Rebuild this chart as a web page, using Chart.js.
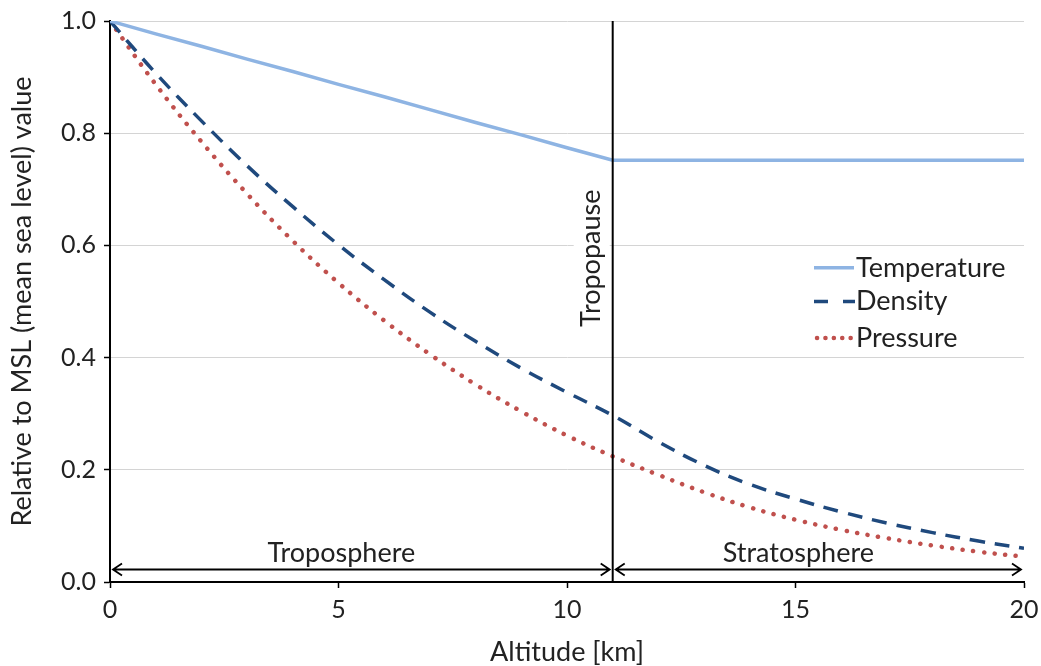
<!DOCTYPE html>
<html>
<head>
    <title>Atmosphere</title>
    <script src="https://cdn.jsdelivr.net/npm/chart.js"></script>
    <style>
        html, body { margin: 0; padding: 0; background: #fff; }
        #wrap { width: 1041px; height: 666px; position: relative; }
    </style>
</head>
<body>
    <div id="wrap"><canvas id="myChart" width="1041" height="666"></canvas></div>
    <script>
        // altitude in km
        const altitude = [0, 1, 2, 3, 4, 5, 6, 7, 8, 9, 10, 11, 12, 13, 14, 15, 16, 17, 18, 19, 20];
        // values relative to mean sea level
        const temperature = [1.000, 0.977, 0.955, 0.932, 0.910, 0.887, 0.865, 0.842, 0.819, 0.797, 0.774, 0.752,
            0.752, 0.752, 0.752, 0.752, 0.752, 0.752, 0.752, 0.752, 0.752];
        const density = [1.000, 0.907, 0.822, 0.742, 0.669, 0.601, 0.539, 0.481, 0.429, 0.381, 0.338, 0.297,
            0.250, 0.208, 0.174, 0.148, 0.125, 0.105, 0.088, 0.073, 0.060];
        const pressure = [1.000, 0.887, 0.785, 0.692, 0.608, 0.533, 0.466, 0.406, 0.352, 0.304, 0.261, 0.224,
            0.191, 0.160, 0.133, 0.111, 0.093, 0.078, 0.065, 0.054, 0.045];
        const xTicks = [0, 5, 10, 15, 20];
        const yTicks = [0, 0.2, 0.4, 0.6, 0.8, 1.0];

        const tropopauseKm = 11;
        const arrowLevel = 0.024;
        const regions = [
            { label: 'Troposphere', from: 0, to: tropopauseKm },
            { label: 'Stratosphere', from: tropopauseKm, to: 20 }
        ];

        const fontFamily = 'Lato, "Open Sans", sans-serif';
        const textColor = '#222';
        const bigFont = 27;

        function points(ys) {
            return altitude.map((a, i) => ({ x: a, y: ys[i] }));
        }

        const datasets = [
            {
                label: 'Temperature',
                data: points(temperature),
                borderColor: '#8EB4E3',
                borderWidth: 3.5,
                tension: 0,
                pointRadius: 0
            },
            {
                label: 'Density',
                data: points(density),
                borderColor: '#1F497D',
                borderWidth: 3.5,
                borderDash: [15, 10],
                tension: 0.4,
                pointRadius: 0
            },
            {
                label: 'Pressure',
                data: points(pressure),
                borderColor: '#C0504D',
                borderWidth: 4.5,
                borderDash: [0.1, 10.6],
                borderCapStyle: 'round',
                tension: 0.4,
                pointRadius: 0
            }
        ];

        // tropopause line, region arrows and the legend inside the plot
        const annotations = {
            id: 'annotations',
            afterDatasetsDraw(chart) {
                const ctx = chart.ctx;
                const xs = chart.scales.x;
                const ys = chart.scales.y;
                const area = chart.chartArea;
                const xt = xs.getPixelForValue(tropopauseKm);

                ctx.save();
                // Tropopause label with white box behind it
                ctx.font = bigFont + 'px ' + fontFamily;
                const tw = ctx.measureText('Tropopause').width;
                const cy = ys.getPixelForValue(0.577);
                const cx = xt - 21;
                ctx.fillStyle = '#fff';
                ctx.fillRect(cx - 18, cy - tw / 2 - 4, 36, tw + 8);
                ctx.translate(cx, cy);
                ctx.rotate(-Math.PI / 2);
                ctx.fillStyle = textColor;
                ctx.textAlign = 'center';
                ctx.textBaseline = 'middle';
                ctx.fillText('Tropopause', 0, 0);
                ctx.restore();

                ctx.save();
                ctx.strokeStyle = '#000';
                ctx.lineWidth = 2;
                ctx.beginPath();
                ctx.moveTo(xt, area.top);
                ctx.lineTo(xt, area.bottom);
                ctx.stroke();

                // double arrows
                const ya = Math.round(ys.getPixelForValue(arrowLevel)) + 0.5;
                ctx.lineWidth = 1.8;
                ctx.font = bigFont + 'px ' + fontFamily;
                ctx.fillStyle = textColor;
                ctx.textAlign = 'center';
                ctx.textBaseline = 'alphabetic';
                regions.forEach(r => {
                    const x1 = xs.getPixelForValue(r.from) + 3;
                    const x2 = xs.getPixelForValue(r.to) - 3;
                    ctx.beginPath();
                    ctx.moveTo(x1, ya);
                    ctx.lineTo(x2, ya);
                    ctx.moveTo(x1 + 9, ya - 6);
                    ctx.lineTo(x1, ya);
                    ctx.lineTo(x1 + 9, ya + 6);
                    ctx.moveTo(x2 - 9, ya - 6);
                    ctx.lineTo(x2, ya);
                    ctx.lineTo(x2 - 9, ya + 6);
                    ctx.stroke();
                    ctx.fillText(r.label, (x1 + x2) / 2 - 20, ya - 8);
                });

                // legend
                const lx = area.right - 214;
                const rows = [ys.getPixelForValue(0.56), ys.getPixelForValue(0.50), ys.getPixelForValue(0.435)];
                ctx.textAlign = 'left';
                ctx.textBaseline = 'middle';
                chart.data.datasets.forEach((ds, i) => {
                    const y = rows[i];
                    ctx.save();
                    ctx.strokeStyle = ds.borderColor;
                    ctx.lineWidth = ds.borderWidth;
                    ctx.lineCap = ds.borderCapStyle || 'butt';
                    ctx.beginPath();
                    if (ds.label === 'Density') {
                        ctx.moveTo(lx + 4, y); ctx.lineTo(lx + 18, y);
                        ctx.moveTo(lx + 33, y); ctx.lineTo(lx + 45, y);
                    } else if (ds.label === 'Pressure') {
                        ctx.setLineDash([0.1, 8.3]);
                        ctx.moveTo(lx + 7, y); ctx.lineTo(lx + 42, y);
                    } else {
                        ctx.moveTo(lx + 4, y); ctx.lineTo(lx + 44, y);
                    }
                    ctx.stroke();
                    ctx.restore();
                    ctx.fillText(ds.label, lx + 46, y);
                });
                ctx.restore();
            }
        };

        const ctx = document.getElementById('myChart').getContext('2d');
        const myChart = new Chart(ctx, {
            type: 'line',
            data: { datasets: datasets },
            options: {
                responsive: false,
                animation: false,
                devicePixelRatio: 1,
                layout: { padding: { left: 0, right: 17, top: 21, bottom: 0 } },
                plugins: {
                    legend: { display: false },
                    tooltip: { enabled: false }
                },
                scales: {
                    x: {
                        type: 'linear',
                        min: 0,
                        max: 20,
                        afterBuildTicks(scale) {
                            scale.ticks = xTicks.map(v => ({ value: v }));
                        },
                        afterFit(scale) {
                            scale.height = 84;
                            scale.paddingLeft = 0;
                            scale.paddingRight = 0;
                        },
                        border: { display: true, color: '#000', width: 2 },
                        grid: {
                            drawOnChartArea: false,
                            drawTicks: true,
                            tickLength: 6,
                            tickColor: '#000',
                            tickWidth: 1.5
                        },
                        ticks: {
                            padding: 7,
                            color: textColor,
                            font: { family: fontFamily, size: 25 },
                            maxRotation: 0
                        },
                        title: {
                            display: true,
                            text: 'Altitude [km]',
                            color: textColor,
                            font: { family: fontFamily, size: bigFont, lineHeight: 1.05 },
                            padding: { top: 4, bottom: 0 }
                        }
                    },
                    y: {
                        min: 0,
                        max: 1,
                        afterBuildTicks(scale) {
                            scale.ticks = yTicks.map(v => ({ value: v }));
                        },
                        afterFit(scale) {
                            scale.width = 110;
                            scale.paddingTop = 0;
                            scale.paddingBottom = 0;
                        },
                        border: { display: true, color: '#000', width: 2 },
                        grid: {
                            color: '#d4d4d4',
                            lineWidth: 1,
                            drawTicks: true,
                            tickLength: 6,
                            tickColor: '#000',
                            tickWidth: 1.5
                        },
                        ticks: {
                            padding: 8,
                            color: textColor,
                            font: { family: fontFamily, size: 25 },
                            callback: v => Number(v).toFixed(1)
                        },
                        title: {
                            display: true,
                            text: 'Relative to MSL (mean sea level) value',
                            color: textColor,
                            font: { family: fontFamily, size: bigFont, lineHeight: 1.05 },
                            padding: { top: 8, bottom: 0 }
                        }
                    }
                }
            },
            plugins: [annotations]
        });
    </script>
</body>
</html>
